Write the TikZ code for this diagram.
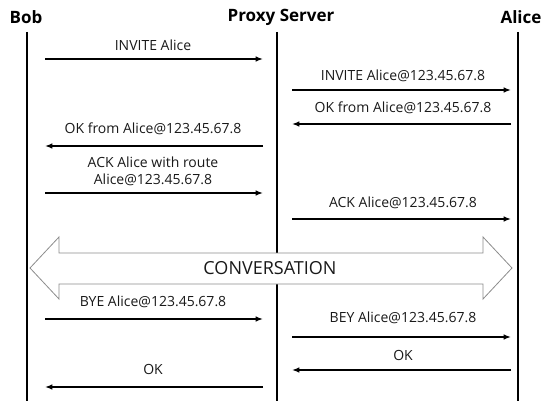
\documentclass[tikz,border=0pt]{standalone}
\usepackage{fontspec}
\setmainfont{Open Sans}
\usetikzlibrary{arrows.meta}
\tikzset{
  lifeline/.style={line width=2pt},
  msgarrow/.style={-{Latex[length=2.6mm,width=2mm]}, line width=1.8pt},
  party/.style={font=\fontsize{17}{19}\selectfont\bfseries, inner sep=0pt},
  msglabel/.style={font=\fontsize{14}{17}\selectfont, text=black!90, align=center, inner sep=0pt},
  convarrow/.style={draw=black!45, fill=white, line width=0.8pt},
  convlabel/.style={font=\fontsize{18}{20}\selectfont, text=black!90, inner sep=0pt}
}

\begin{document}
\begin{tikzpicture}[x=1pt, y=-1pt]
  \useasboundingbox (0,0) rectangle (552,401);

  % parties and lifelines
  \node[party] (bob) at (26,17) {Bob};
  \node[party] (proxy) at (281,17) {Proxy Server};
  \node[party] (alice) at (521,17) {Alice};
  \coordinate (bobtop) at (27,32);   \coordinate (bobbot) at (27,401);
  \coordinate (proxytop) at (277,32); \coordinate (proxybot) at (277,401);
  \coordinate (alicetop) at (518,32); \coordinate (alicebot) at (518,401);
  \draw[lifeline] (bobtop) -- (bobbot);
  \draw[lifeline] (proxytop) -- (proxybot);
  \draw[lifeline] (alicetop) -- (alicebot);

  % conversation arrow
  \draw[convarrow] (30,268) -- (59,237) -- (59,253) -- (483,253) -- (483,237) -- (512,268)
    -- (483,299) -- (483,284) -- (59,284) -- (59,299) -- cycle;
  \node[convlabel] (conv) at (270,268) {CONVERSATION};

  % messages
  \coordinate (m1a) at (45,59);   \coordinate (m1b) at (263,59);
  \coordinate (m2a) at (292,90);  \coordinate (m2b) at (511,90);
  \coordinate (m3a) at (511,124); \coordinate (m3b) at (292,124);
  \coordinate (m4a) at (263,146); \coordinate (m4b) at (45,146);
  \coordinate (m5a) at (45,193);  \coordinate (m5b) at (263,193);
  \coordinate (m6a) at (292,219); \coordinate (m6b) at (511,219);
  \coordinate (m7a) at (45,319);  \coordinate (m7b) at (263,319);
  \coordinate (m8a) at (292,337); \coordinate (m8b) at (511,337);
  \coordinate (m9a) at (511,370); \coordinate (m9b) at (292,370);
  \coordinate (m10a) at (263,387); \coordinate (m10b) at (45,387);

  \draw[msgarrow] (m1a) -- (m1b);
  \draw[msgarrow] (m2a) -- (m2b);
  \draw[msgarrow] (m3a) -- (m3b);
  \draw[msgarrow] (m4a) -- (m4b);
  \draw[msgarrow] (m5a) -- (m5b);
  \draw[msgarrow] (m6a) -- (m6b);
  \draw[msgarrow] (m7a) -- (m7b);
  \draw[msgarrow] (m8a) -- (m8b);
  \draw[msgarrow] (m9a) -- (m9b);
  \draw[msgarrow] (m10a) -- (m10b);

  \node[msglabel] (l1) at (153,45) {INVITE Alice};
  \node[msglabel] (l2) at (403,76) {INVITE Alice@123.45.67.8};
  \node[msglabel] (l3) at (403,108) {OK from Alice@123.45.67.8};
  \node[msglabel] (l4) at (153,129) {OK from Alice@123.45.67.8};
  \node[msglabel] (l5) at (153,171.5) {ACK Alice with route\\Alice@123.45.67.8};
  \node[msglabel] (l6) at (403,203) {ACK Alice@123.45.67.8};
  \node[msglabel] (l7) at (153,302) {BYE Alice@123.45.67.8};
  \node[msglabel] (l8) at (403,318) {BEY Alice@123.45.67.8};
  \node[msglabel] (l9) at (403,355) {OK};
  \node[msglabel] (l10) at (153,369) {OK};
\end{tikzpicture}
\end{document}
